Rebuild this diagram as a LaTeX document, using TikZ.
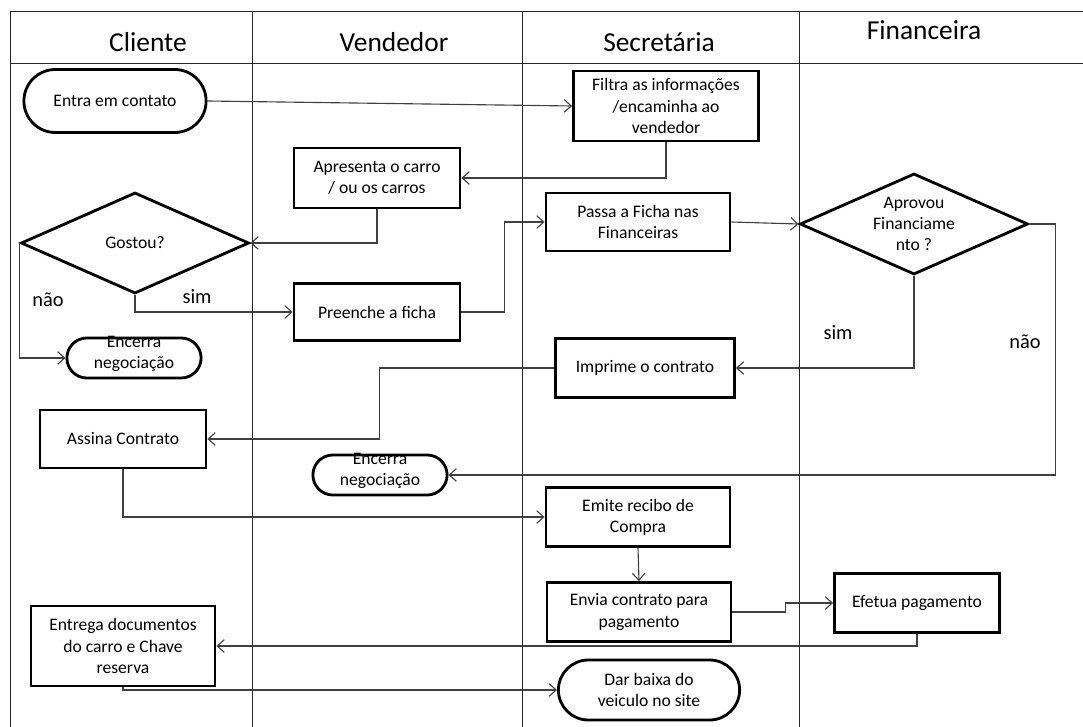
\documentclass[tikz,border=0pt]{standalone}
\usepackage{fontspec}
\setmainfont{Carlito}
\usepackage{tikz}
\usetikzlibrary{positioning, arrows, arrows.meta, shapes.geometric, shapes.misc}

\begin{document}
\begin{tikzpicture}[x=0.025cm, y=-0.025cm,
    lane/.style={draw=black!85, line width=0.7pt},
    head/.style={font=\fontsize{19.5}{22}\selectfont},
    proc/.style={draw, line width=2pt, rectangle, align=center, inner sep=1pt,
        font=\fontsize{12.5}{15}\selectfont},
    term/.style={draw, line width=2pt, rounded rectangle, align=center, inner sep=1pt,
        font=\fontsize{12.5}{15}\selectfont},
    decis/.style={draw, line width=2pt, diamond, aspect=2.2, align=center, inner sep=1pt,
        font=\fontsize{12.5}{15}\selectfont},
    lbl/.style={font=\fontsize{14.5}{17}\selectfont},
    conn/.style={-{Straight Barb[length=5pt,width=9pt]}, draw=black!75, line width=0.8pt}]

    \useasboundingbox (0,0) rectangle (1083,727);

    % Lanes
    \draw[lane] (10,727) |- (1083,11);
    \draw[lane] (10,63) -- (1083,63);
    \foreach \x in {252,522,799} \draw[lane] (\x,11) -- (\x,727);

    \node[head] (hcli) at (148,42) {Cliente};
    \node[head] (hven) at (394,42) {Vendedor};
    \node[head] (hsec) at (659,42) {Secretária};
    \node[head] (hfin) at (924,30) {Financeira};

    % Define nodes
    \node[term, minimum width=4.625cm, minimum height=1.575cm] (entra) at (115,101) {Entra em contato};
    \node[proc, minimum width=4.625cm, minimum height=1.75cm] (filtra) at (666,106)
        {Filtra as informações\\/encaminha ao\\vendedor};
    \node[proc, minimum width=4.15cm, minimum height=1.5cm] (apresenta) at (377,178)
        {Apresenta o carro\\/ ou os carros};
    \node[decis, minimum width=5.7cm, minimum height=2.525cm] (gostou) at (135,243) {Gostou?};
    \node[term, minimum width=3.425cm, minimum height=1cm] (encerraA) at (134,358)
        {\smash{\begin{tabular}{@{}c@{}}Encerra\\negociação\end{tabular}}};
    \node[proc, minimum width=4.15cm, minimum height=1.425cm] (preenche) at (377,312) {Preenche a ficha};
    \node[proc, minimum width=4.6cm, minimum height=1.45cm] (passa) at (638,222)
        {Passa a Ficha nas\\Financeiras};
    \node[decis, minimum width=5.7cm, minimum height=2.525cm] (aprovou) at (914,224)
        {Aprovou\\Financiame\\nto ?};
    \node[proc, minimum width=4.475cm, minimum height=1.475cm] (imprime) at (645,368) {Imprime o contrato};
    \node[proc, minimum width=4.15cm, minimum height=1.45cm] (assina) at (123,439) {Assina Contrato};
    \node[term, minimum width=3.425cm, minimum height=1cm] (encerraB) at (380,475)
        {\smash{\begin{tabular}{@{}c@{}}Encerra\\negociação\end{tabular}}};
    \node[proc, minimum width=4.6cm, minimum height=1.475cm] (emite) at (638,517)
        {Emite recibo de\\Compra};
    \node[proc, minimum width=4.6cm, minimum height=1.475cm] (envia) at (639,612)
        {Envia contrato para\\pagamento};
    \node[proc, minimum width=4.125cm, minimum height=1.475cm] (efetua) at (917,603) {Efetua pagamento};
    \node[proc, minimum width=4.6cm, minimum height=2cm] (entrega) at (123,646)
        {Entrega documentos\\do carro e Chave\\reserva};
    \node[term, minimum width=4.6cm, minimum height=1.5cm] (darbaixa) at (649,690)
        {Dar baixa do\\veiculo no site};

    \node[lbl] (naoA) at (48,300) {não};
    \node[lbl] (simA) at (197,297) {sim};
    \node[lbl] (simB) at (838,333) {sim};
    \node[lbl] (naoB) at (1025,342) {não};

    % Draw arrows
    \draw[conn] (entra.east) -- (filtra.west);
    \draw[conn] (filtra.south) |- (apresenta.east);
    \draw[conn] (apresenta.south) |- (gostou.east);
    \draw[conn] (gostou.west) |- (encerraA.west);
    \draw[conn] (gostou.south) |- (preenche.west);
    \draw[conn] (preenche.east) -- ++(43,0) |- (passa.west);
    \draw[conn] (passa.east) -- (aprovou.west);
    \draw[conn] (aprovou.south) |- (imprime.east);
    \draw[conn] (aprovou.east) -- ++(26,0) |- (encerraB.east);
    \draw[conn] (imprime.west) -- ++(-175,0) |- (assina.east);
    \draw[conn] (assina.south) |- (emite.west);
    \draw[conn] (emite.south) -- (envia.north);
    \draw[conn] (envia.east) -- ++(53,0) |- (efetua.west);
    \draw[conn] (efetua.south) |- (entrega.east);
    \draw[conn] (entrega.south) |- (darbaixa.west);
\end{tikzpicture}
\end{document}
